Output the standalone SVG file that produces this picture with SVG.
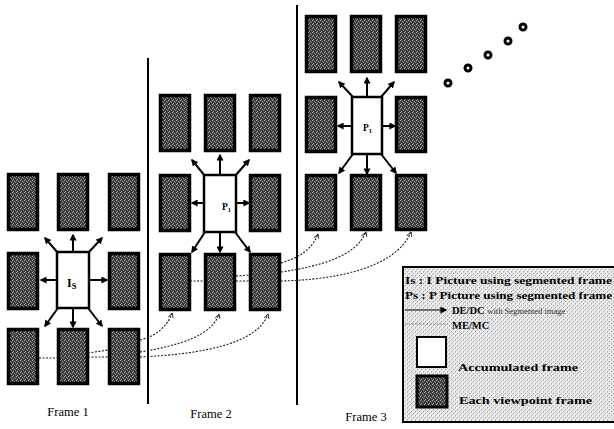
<svg xmlns="http://www.w3.org/2000/svg" width="614" height="429" viewBox="0 0 614 429">
<style>
.tile{fill:url(#dither);stroke:#000;stroke-width:3.5}
.acc{fill:#fff;stroke:#000;stroke-width:2.5}
.arr{stroke:#000;stroke-width:2;fill:none;marker-end:url(#ah)}
.me{stroke:#1a1a1a;stroke-width:1.1;stroke-dasharray:2 1.5;fill:none}
.mh{marker-end:url(#hook)}
.div{stroke:#000;stroke-width:2}
.lbl{font-family:"Liberation Serif",serif;font-weight:bold;fill:#000}
.frm{font-family:"Liberation Serif",serif;font-size:12.5px;fill:#000;text-anchor:middle}
.leg{font-family:"Liberation Serif",serif;font-weight:bold;font-size:10.5px;fill:#000}
.dot{fill:#fff;stroke:#000;stroke-width:3}
</style>
<defs>
<pattern id="dither" width="4" height="4" patternUnits="userSpaceOnUse">
<rect width="4" height="4" fill="#3c3c3c"/>
<rect x="0" y="0" width="1" height="1" fill="#b4b4b4"/>
<rect x="2" y="1" width="1" height="1" fill="#9c9c9c"/>
<rect x="1" y="3" width="1" height="1" fill="#a8a8a8"/>
<rect x="3" y="2" width="1" height="1" fill="#888"/>
<rect x="2" y="3" width="1" height="1" fill="#1a1a1a"/>
</pattern>
<pattern id="legbg" width="4" height="4" patternUnits="userSpaceOnUse">
<rect width="4" height="4" fill="#ececec"/>
<rect x="1" y="1" width="1" height="1" fill="#9a9a9a"/>
<rect x="3" y="3" width="1" height="1" fill="#acacac"/>
<rect x="3" y="0" width="1" height="1" fill="#c4c4c4"/>
<rect x="0" y="2" width="1" height="1" fill="#c8c8c8"/>
</pattern>
<marker id="ah" viewBox="0 0 10 10" refX="8" refY="5" markerWidth="7" markerHeight="7" markerUnits="userSpaceOnUse" orient="auto">
<path d="M0,0 L10,5 L0,10 z" fill="#000"/>
</marker>
<marker id="hook" viewBox="0 0 10 10" refX="9" refY="5" markerWidth="6" markerHeight="6" markerUnits="userSpaceOnUse" orient="auto">
<path d="M0,1 L9,5 L2,9" fill="none" stroke="#222" stroke-width="1.5"/>
</marker>
</defs>

<rect width="614" height="429" fill="#fff"/>

<g id="dividers">
<line class="div" x1="148" y1="58" x2="148" y2="404"/>
<line class="div" x1="297" y1="5" x2="297" y2="405"/>
</g>

<!-- Frame 1 -->
<g id="f1-t1"><rect class="tile" x="8.5" y="174.5" width="29" height="55"/></g>
<g id="f1-t2"><rect class="tile" x="58.5" y="174.5" width="29" height="55"/></g>
<g id="f1-t3"><rect class="tile" x="109.5" y="174.5" width="29" height="55"/></g>
<g id="f1-t4"><rect class="tile" x="8.5" y="253.5" width="29" height="55"/></g>
<g id="f1-center"><rect class="acc" x="57" y="252" width="32" height="56"/><text class="lbl" x="67" y="287" font-size="12">I<tspan font-size="8.5" dy="2">S</tspan></text></g>
<g id="f1-t5"><rect class="tile" x="109.5" y="253.5" width="29" height="55"/></g>
<g id="f1-t6"><rect class="tile" x="8.5" y="329.5" width="29" height="54"/></g>
<g id="f1-t7"><rect class="tile" x="58.5" y="329.5" width="29" height="54"/></g>
<g id="f1-t8"><rect class="tile" x="109.5" y="329.5" width="29" height="54"/></g>

<!-- Frame 2 -->
<g id="f2-t1"><rect class="tile" x="160.5" y="95.5" width="29" height="55"/></g>
<g id="f2-t2"><rect class="tile" x="205.5" y="95.5" width="29" height="55"/></g>
<g id="f2-t3"><rect class="tile" x="250.5" y="95.5" width="29" height="55"/></g>
<g id="f2-t4"><rect class="tile" x="160.5" y="175.5" width="29" height="55"/></g>
<g id="f2-center"><rect class="acc" x="204" y="175" width="32" height="57"/><text class="lbl" x="222" y="210" font-size="9.5">P<tspan font-size="6.5" dy="1.5">1</tspan></text></g>
<g id="f2-t5"><rect class="tile" x="250.5" y="175.5" width="29" height="55"/></g>
<g id="f2-t6"><rect class="tile" x="160.5" y="254.5" width="29" height="55"/></g>
<g id="f2-t7"><rect class="tile" x="205.5" y="254.5" width="29" height="55"/></g>
<g id="f2-t8"><rect class="tile" x="250.5" y="254.5" width="29" height="55"/></g>

<!-- Frame 3 -->
<g id="f3-t1"><rect class="tile" x="306.5" y="16.5" width="29" height="55"/></g>
<g id="f3-t2"><rect class="tile" x="351.5" y="16.5" width="29" height="55"/></g>
<g id="f3-t3"><rect class="tile" x="396.5" y="16.5" width="29" height="55"/></g>
<g id="f3-t4"><rect class="tile" x="306.5" y="97.5" width="29" height="54"/></g>
<g id="f3-center"><rect class="acc" x="352" y="97" width="30" height="57"/><text class="lbl" x="363" y="131" font-size="9.5">P<tspan font-size="6.5" dy="1.5">1</tspan></text></g>
<g id="f3-t5"><rect class="tile" x="396.5" y="97.5" width="29" height="54"/></g>
<g id="f3-t6"><rect class="tile" x="306.5" y="175.5" width="29" height="54"/></g>
<g id="f3-t7"><rect class="tile" x="351.5" y="175.5" width="29" height="54"/></g>
<g id="f3-t8"><rect class="tile" x="396.5" y="175.5" width="29" height="54"/></g>

<g id="connectors">
<!-- DE/DC arrows frame 1 -->
<path class="arr" d="M73,252 L73,235"/>
<path class="arr" d="M58,253 L45,238"/>
<path class="arr" d="M88,253 L102,238"/>
<path class="arr" d="M57,280 L41,280"/>
<path class="arr" d="M89,280 L107,280"/>
<path class="arr" d="M73,308 L73,327"/>
<path class="arr" d="M58,308 L45,326"/>
<path class="arr" d="M88,308 L102,326"/>
<!-- frame 2 -->
<path class="arr" d="M220,175 L220,155"/>
<path class="arr" d="M205,176 L192,160"/>
<path class="arr" d="M235,176 L249,160"/>
<path class="arr" d="M204,203 L192,203"/>
<path class="arr" d="M236,203 L249,203"/>
<path class="arr" d="M220,232 L220,252"/>
<path class="arr" d="M205,232 L192,252"/>
<path class="arr" d="M235,232 L250,252"/>
<!-- frame 3 -->
<path class="arr" d="M367,97 L367,78"/>
<path class="arr" d="M353,97 L339,82"/>
<path class="arr" d="M381,97 L394,82"/>
<path class="arr" d="M352,126 L338,126"/>
<path class="arr" d="M382,126 L395,126"/>
<path class="arr" d="M367,154 L367,174"/>
<path class="arr" d="M353,154 L339,173"/>
<path class="arr" d="M381,154 L396,173"/>
<!-- ME/MC frame 1 -> frame 2 -->
<path class="me" d="M39,358 L57,358"/>
<path class="me" d="M88,357 L108,357"/>
<path class="me mh" d="M140,357 C205,354 258,343 268,314"/>
<path class="me" d="M88,353 L108,350"/>
<path class="me mh" d="M140,352 C182,345 212,335 219,314"/>
<path class="me mh" d="M140,340 C156,336 168,326 172,313"/>
<!-- ME/MC frame 2 -> frame 3 -->
<path class="me" d="M190,281 L204,281"/>
<path class="me" d="M236,281 L249,281"/>
<path class="me mh" d="M281,281 C330,280 395,270 411,232"/>
<path class="me" d="M236,276 L249,275"/>
<path class="me mh" d="M281,272 C322,266 356,256 366,232"/>
<path class="me mh" d="M281,263 C298,258 312,250 318,234"/>
</g>

<g id="ellipsis">
<circle class="dot" cx="448" cy="83" r="3"/>
<circle class="dot" cx="468" cy="68" r="3"/>
<circle class="dot" cx="488" cy="55" r="3"/>
<circle class="dot" cx="508" cy="41" r="3"/>
<circle class="dot" cx="523" cy="27" r="3"/>
</g>

<g id="frame-labels">
<text class="frm" x="68" y="416">Frame 1</text>
<text class="frm" x="211" y="418">Frame 2</text>
<text class="frm" x="366" y="421">Frame 3</text>
</g>

<g id="legend">
<rect x="403" y="267" width="215" height="155" fill="url(#legbg)" stroke="#000" stroke-width="2"/>
<text class="leg" x="405" y="284" textLength="207" lengthAdjust="spacingAndGlyphs">Is : I Picture using segmented frame</text>
<text class="leg" x="405" y="299" textLength="207" lengthAdjust="spacingAndGlyphs">Ps : P Picture using segmented frame</text>
<line x1="405" y1="310" x2="446" y2="310" stroke="#000" stroke-width="1.2" marker-end="url(#ah)"/>
<text class="leg" x="452" y="314" font-size="11.5">DE/DC <tspan font-weight="normal" font-size="8.5" fill="#333">with Segmented image</tspan></text>
<line x1="405" y1="324" x2="448" y2="324" stroke="#888" stroke-width="1" stroke-dasharray="2 1.5"/>
<text class="leg" x="452" y="329" font-size="12.5">ME/MC</text>
<rect x="417" y="337" width="29" height="30" fill="#fff" stroke="#000" stroke-width="2"/>
<text class="leg" x="458" y="371" font-size="14" textLength="120" lengthAdjust="spacingAndGlyphs">Accumulated frame</text>
<rect x="417" y="376" width="30" height="31" fill="url(#dither)" stroke="#000" stroke-width="3"/>
<text class="leg" x="459" y="404" font-size="14" textLength="133" lengthAdjust="spacingAndGlyphs">Each viewpoint frame</text>
</g>
</svg>
